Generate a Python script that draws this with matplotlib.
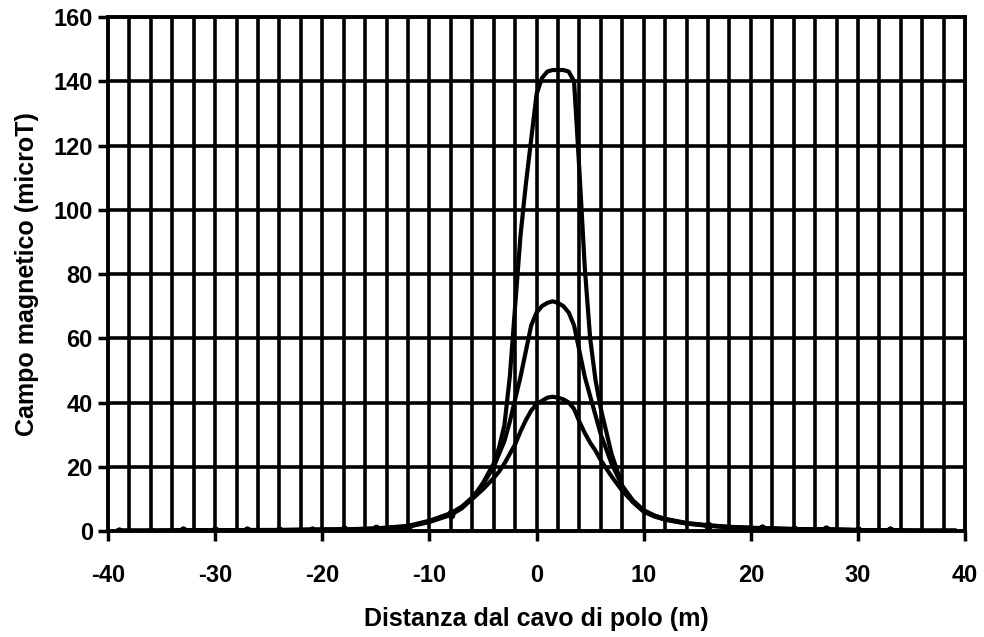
import matplotlib
matplotlib.use('Agg')
import matplotlib.pyplot as plt
import numpy as np

# distanza dal cavo (m)
dist = [-39, -36, -33, -30, -27, -24, -21, -18, -15, -12, -10, -8, -7, -6, -5, -4,
        -3.5, -3, -2.5, -2, -1.5, -1, -0.5, 0, 0.5, 1, 1.5, 2, 2.5, 3, 3.5, 4, 4.5,
        5, 5.5, 6, 7, 8, 9, 10, 11, 12, 14, 16, 18, 21, 24, 27, 30, 33, 36, 39]

campo_alto = [0.1, 0.1, 0.2, 0.2, 0.3, 0.3, 0.4, 0.5, 0.7, 1.3, 2.8, 5, 7, 10, 15, 21,
              26, 33, 48, 70, 92, 108, 122, 136, 141, 143, 143.5, 143.5, 143.5, 143, 140, 112, 82,
              60, 47, 38, 24, 14, 9, 6, 4.5, 3.5, 2.3, 1.6, 1.2, 0.8, 0.6, 0.5, 0.3, 0.2, 0.1, 0.1]

campo_medio = [0.1, 0.1, 0.2, 0.2, 0.3, 0.3, 0.4, 0.5, 0.7, 1.4, 3.0, 5.5, 7.5, 10.5, 14.5, 20,
               24, 28, 34, 41, 48, 56, 64, 68, 70, 71, 71.5, 71, 70, 68, 64, 56, 48,
               42, 36, 30, 21, 14, 9.5, 6.5, 4.8, 3.6, 2.4, 1.7, 1.2, 0.8, 0.6, 0.5, 0.3, 0.2, 0.1, 0.1]

campo_basso = [0.1, 0.1, 0.2, 0.2, 0.3, 0.3, 0.4, 0.5, 0.8, 1.6, 3.2, 5.5, 7.5, 10, 13, 16.5,
               18.5, 21, 24, 27, 31, 34.5, 37.5, 39.5, 40.5, 41.5, 41.8, 41.5, 41, 40, 38, 34, 30.5,
               27.5, 25, 22, 17, 12.5, 9, 6.2, 4.8, 3.8, 2.5, 1.8, 1.3, 0.9, 0.6, 0.5, 0.3, 0.2, 0.1, 0.1]

xticks = [-40, -30, -20, -10, 0, 10, 20, 30, 40]
yticks = [0, 20, 40, 60, 80, 100, 120, 140, 160]

plt.rcParams['font.family'] = ['Liberation Sans', 'DejaVu Sans']
plt.rcParams['font.weight'] = 'bold'
plt.rcParams['axes.unicode_minus'] = False

fig = plt.figure(figsize=(9.84, 6.37), dpi=100)
ax = fig.add_axes([0.1098, 0.1664, 0.871, 0.8069])

# griglia fitta come nell'originale
for gx in np.arange(-38, 40, 2):
    ax.axvline(gx, color='black', lw=2.6, zorder=1)
for gy in yticks[1:-1]:
    ax.axhline(gy, color='black', lw=2.6, zorder=1)

marks = [0, 1, 2, 3, 4, 5, 6, 7, 8, 9, 11, 43, 45, 46, 47, 48, 49]
for serie in (campo_alto, campo_medio, campo_basso):
    ax.plot(dist, serie, color='black', lw=3, zorder=3,
            marker='o', markersize=4.5, markevery=marks)

ax.set_xlim(-40, 40)
ax.set_ylim(0, 160)
ax.set_xticks(xticks)
ax.set_yticks(yticks)
ax.tick_params(axis='both', direction='out', length=7, width=2.5, labelsize=17)
ax.tick_params(axis='x', pad=17)
ax.tick_params(axis='y', pad=4)
for s in ax.spines.values():
    s.set_linewidth(2.8)

ax.set_xlabel('Distanza dal cavo di polo (m)', fontsize=18, fontweight='bold', labelpad=14)
ax.set_ylabel('Campo magnetico (microT)', fontsize=18, fontweight='bold', labelpad=10)

fig.savefig('out.png', dpi=100)
